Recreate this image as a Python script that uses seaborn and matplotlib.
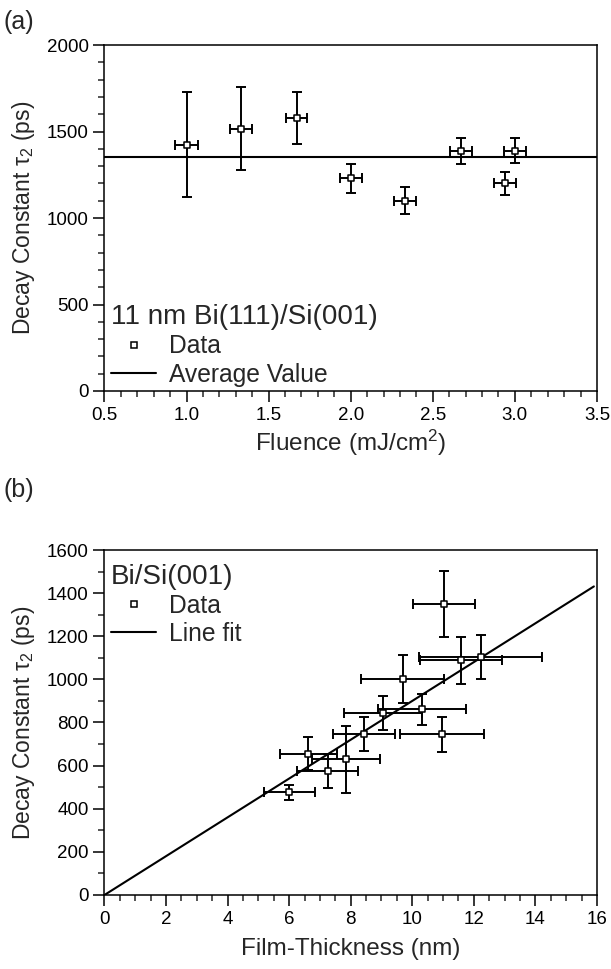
import numpy as np
import pandas as pd
import matplotlib
matplotlib.use("Agg")
import matplotlib.pyplot as plt
from matplotlib.lines import Line2D
from matplotlib.ticker import MultipleLocator
import seaborn as sns

# Panel (a): decay constant vs fluence (11 nm film)
fluence = [1.0, 1.33, 1.67, 2.0, 2.33, 2.67, 2.94, 3.0]
fluence_err = [0.07, 0.067, 0.066, 0.067, 0.067, 0.067, 0.067, 0.067]
tau_a = [1425, 1517, 1577, 1229, 1101, 1387, 1200, 1389]
tau_a_err = [302, 242, 150, 83, 76, 73, 64, 71]
tau_avg = 1350

# Panel (b): decay constant vs film thickness
thickness = [11.03, 11.58, 12.22, 9.69, 10.32, 9.06, 8.44, 10.96, 6.62, 7.85, 7.25, 6.01]
thickness_err = [1.0, 1.34, 2.0, 1.34, 1.43, 1.27, 1.0, 1.36, 0.92, 1.1, 1.0, 0.84]
tau_b = [1351, 1088, 1104, 1002, 861, 843, 745, 745, 656, 629, 574, 476]
tau_b_err = [153, 108, 100, 110, 72, 79, 79, 80, 76, 156, 80, 35]
fit_x = [0.0, 15.9]
fit_slope = 90.0

sns.set_theme(style="ticks")
plt.rcParams['font.family'] = ['Liberation Sans', 'DejaVu Sans']
plt.rcParams['mathtext.fontset'] = 'custom'
plt.rcParams['mathtext.rm'] = 'Liberation Sans'
plt.rcParams['mathtext.it'] = 'Liberation Sans:italic'
plt.rcParams['axes.linewidth'] = 1.1
plt.rcParams['axes.edgecolor'] = 'black'

fig = plt.figure(figsize=(6.11, 9.69), dpi=100)
ax1 = fig.add_axes([0.171, 0.5965, 0.806, 0.357])
ax2 = fig.add_axes([0.171, 0.0764, 0.806, 0.356])

mk = dict(marker='s', s=22, facecolor='white', edgecolor='black', linewidth=1.1, zorder=4)
eb = dict(fmt='none', ecolor='black', elinewidth=1.4, capsize=3.8, capthick=1.4, zorder=3)

# ---- panel (a)
df_a = pd.DataFrame({'x': fluence, 'y': tau_a})
ax1.errorbar(fluence, tau_a, yerr=tau_a_err, xerr=fluence_err, **eb)
sns.scatterplot(data=df_a, x='x', y='y', ax=ax1, **mk)
ax1.axhline(tau_avg, color='black', lw=1.5, zorder=2)
ax1.set_xlim(0.5, 3.5)
ax1.set_ylim(0, 2000)
ax1.xaxis.set_major_locator(MultipleLocator(0.5))
ax1.xaxis.set_minor_locator(MultipleLocator(0.1))
ax1.yaxis.set_major_locator(MultipleLocator(500))
ax1.yaxis.set_minor_locator(MultipleLocator(100))
ax1.xaxis.set_major_formatter(matplotlib.ticker.FormatStrFormatter('%.1f'))
ax1.set_xlabel(r"Fluence (mJ/cm$^{2}$)", fontsize=17.5, labelpad=3)
ax1.set_ylabel(r"Decay Constant $\mathregular{\tau_2}$ (ps)", fontsize=16.5, labelpad=7)

# ---- panel (b)
df_b = pd.DataFrame({'x': thickness, 'y': tau_b})
ax2.errorbar(thickness, tau_b, yerr=tau_b_err, xerr=thickness_err, **eb)
sns.scatterplot(data=df_b, x='x', y='y', ax=ax2, **mk)
fit_df = pd.DataFrame({'x': fit_x, 'y': [fit_slope * v for v in fit_x]})
sns.lineplot(data=fit_df, x='x', y='y', ax=ax2, color='black', lw=1.5, zorder=2)
ax2.set_xlim(0, 16)
ax2.set_ylim(0, 1600)
ax2.xaxis.set_major_locator(MultipleLocator(2))
ax2.xaxis.set_minor_locator(MultipleLocator(0.5))
ax2.yaxis.set_major_locator(MultipleLocator(200))
ax2.yaxis.set_minor_locator(MultipleLocator(100))
ax2.set_xlabel("Film-Thickness (nm)", fontsize=17.5, labelpad=7)
ax2.set_ylabel(r"Decay Constant $\mathregular{\tau_2}$ (ps)", fontsize=16.5, labelpad=7)

for ax in (ax1, ax2):
    for sp in ax.spines.values():
        sp.set_visible(True)
        sp.set_linewidth(1.1)
    ax.tick_params(which='major', direction='out', length=8, width=1.1,
                   labelsize=13.5, colors='black', top=False, right=False)
    ax.tick_params(which='minor', direction='out', length=4.5, width=1.1,
                   top=False, right=False)

handles = [Line2D([], [], ls='none', marker='s', ms=4.5, mfc='white', mec='black', mew=1.1),
           Line2D([], [], color='black', lw=1.5)]
leg_kw = dict(frameon=False, fontsize=17.7, title_fontsize=20,
              handlelength=1.85, handletextpad=0.5, labelspacing=0.18,
              borderaxespad=0.0, borderpad=0.1, alignment='left')
leg1 = ax1.legend(handles, ['Data', 'Average Value'], title='11 nm Bi(111)/Si(001)',
                  loc='lower left', bbox_to_anchor=(0.008, 0.005), **leg_kw)
leg2 = ax2.legend(handles, ['Data', 'Line fit'], title='Bi/Si(001)',
                  loc='upper left', bbox_to_anchor=(0.008, 0.968), **leg_kw)
for leg in (leg1, leg2):
    leg._legend_box.sep = 3

fig.text(0.005, 0.99, "(a)", fontsize=18, va='top', ha='left')
fig.text(0.005, 0.507, "(b)", fontsize=18, va='top', ha='left')

fig.savefig("out.png", dpi=100, facecolor='white')
